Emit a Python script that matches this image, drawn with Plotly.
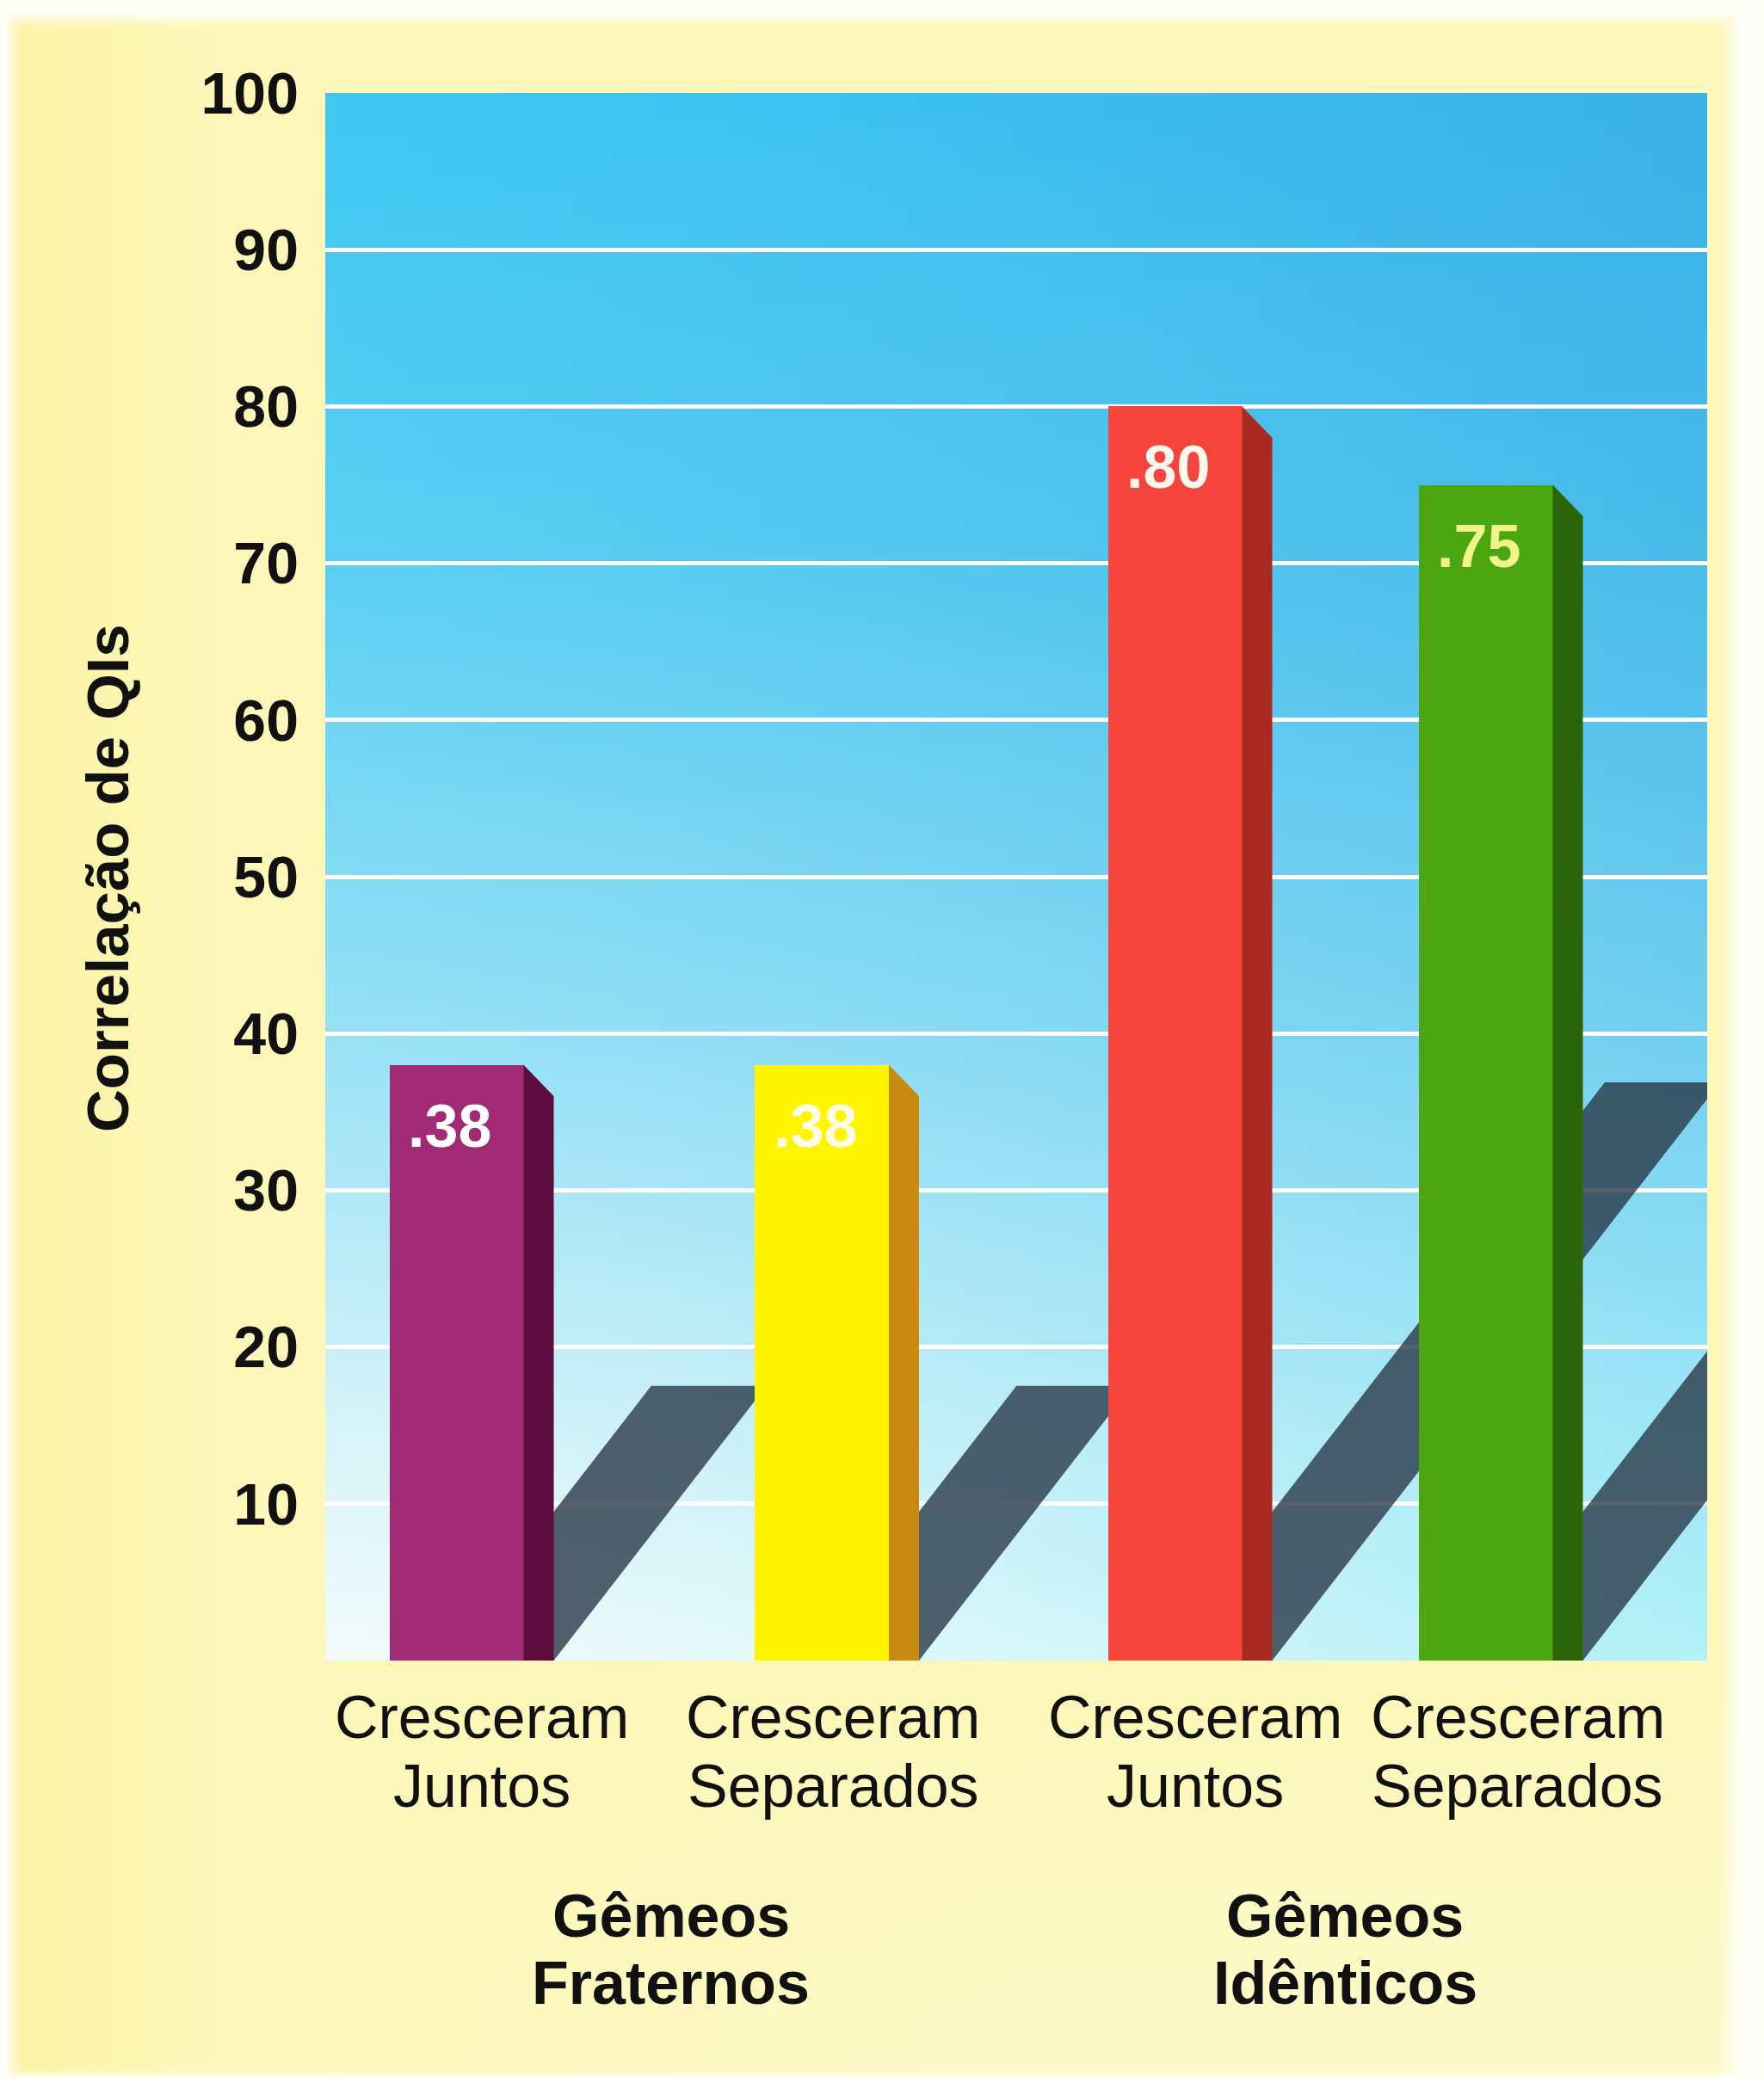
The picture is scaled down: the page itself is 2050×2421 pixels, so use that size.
import base64
import struct
import zlib

import numpy as np
import plotly.graph_objects as go

# ---- data -------------------------------------------------------------
cat_line1 = ["Cresceram", "Cresceram", "Cresceram", "Cresceram"]
cat_line2 = ["Juntos", "Separados", "Juntos", "Separados"]
group_line1 = ["Gêmeos", "Gêmeos"]
group_line2 = ["Fraternos", "Idênticos"]
correlations = [38, 38, 80, 75]
value_labels = [".38", ".38", ".80", ".75"]
y_ticks = [10, 20, 30, 40, 50, 60, 70, 80, 90, 100]

# ---- layout / style ---------------------------------------------------
W, H = 2050, 2421
M_L, M_R, M_T, M_B = 378, 66, 108, 491
PW, PH = W - M_L - M_R, H - M_T - M_B
X_MAX = 10.0

bar_x = [0.950, 3.593, 6.149, 8.397]      # centre of each front face
cat_label_x = [1.133, 3.674, 6.295, 8.630]
group_x = [2.50, 7.38]
bar_w = 0.971
side_dx = 0.218                            # depth of the side face (x units)
side_dy = 2.0                              # drop of the side face top (y units)
shadow_w = 0.834                           # width of the cast shadow (x units)
shadow_h = 0.461                           # shadow height per unit of value
shadow_d = 0.0405                          # shadow horizontal run per unit of value

front_colors = ["#a02a74", "#fff500", "#f5443b", "#4ca60f"]
side_colors = ["#5c0d3e", "#c98a12", "#a82a22", "#2b6509"]
label_colors = ["#ffffff", "#fffbe4", "#fff8ee", "#f3f38c"]
FONT = "Liberation Sans, Arial, Helvetica, sans-serif"


def png_uri(arr):
    """Encode an HxWx3 uint8 array as a PNG data URI."""
    arr = np.ascontiguousarray(arr, dtype=np.uint8)
    h, w, _ = arr.shape
    raw = b"".join(b"\x00" + arr[i].tobytes() for i in range(h))

    def chunk(tag, data):
        c = struct.pack(">I", len(data)) + tag + data
        return c + struct.pack(">I", zlib.crc32(tag + data) & 0xFFFFFFFF)

    png = (b"\x89PNG\r\n\x1a\n"
           + chunk(b"IHDR", struct.pack(">IIBBBBB", w, h, 8, 2, 0, 0, 0))
           + chunk(b"IDAT", zlib.compress(raw, 9))
           + chunk(b"IEND", b""))
    return "data:image/png;base64," + base64.b64encode(png).decode()


def hex_rgb(c):
    c = c.lstrip("#")
    return np.array([int(c[i:i + 2], 16) for i in (0, 2, 4)], dtype=float)


# plot-area backdrop: blue at the top fading to pale cyan / white at the bottom
stops_v = [0.0, 0.3, 0.6, 0.85, 1.0]
left_c = [hex_rgb(c) for c in ["#40c8f2", "#5cd0f3", "#98e2f6", "#d6f4f9", "#f4fcfb"]]
right_c = [hex_rgb(c) for c in ["#3ab2e8", "#4abcea", "#72d0f0", "#9de7f6", "#b2f1f8"]]
gh, gw = 120, 60
grad = np.zeros((gh, gw, 3))
for i in range(gh):
    v = i / (gh - 1)
    lc = np.array([np.interp(v, stops_v, [c[k] for c in left_c]) for k in range(3)])
    rc = np.array([np.interp(v, stops_v, [c[k] for c in right_c]) for k in range(3)])
    for j in range(gw):
        u = (j / (gw - 1)) ** 1.2
        grad[i, j] = lc * (1 - u) + rc * u
plot_bg_uri = png_uri(np.clip(grad, 0, 255))

# page backdrop: pale yellow with whitish borders
ph, pw = 242, 205
page = np.zeros((ph, pw, 3))
base = hex_rgb("#fdf8b9")
sat = hex_rgb("#fcf19a")
pale = hex_rgb("#fefbd2")
white = hex_rgb("#fffffa")
for i in range(ph):
    y = i * H / (ph - 1)
    for j in range(pw):
        x = j * W / (pw - 1)
        c = base.copy()
        t = max(0.0, 1 - (x - 15) / 220) if x > 15 else 1.0
        c = c * (1 - 0.6 * t) + sat * 0.6 * t
        b = np.clip((y - 1950) / 400, 0, 1) * np.clip((x - 300) / 900, 0, 1)
        c = c * (1 - 0.6 * b) + pale * 0.6 * b
        edge = 0.0
        edge = max(edge, np.clip((25 - y) / 15, 0, 1))
        edge = max(edge, np.clip((14 - x) / 8, 0, 1))
        edge = max(edge, np.clip((x - 2000) / 30, 0, 1))
        edge = max(edge, np.clip((y - 2410) / 8, 0, 1))
        page[i, j] = c * (1 - edge) + white * edge
page_uri = png_uri(np.clip(page, 0, 255))

fig = go.Figure()

# front faces of the bars
fig.add_trace(go.Bar(
    x=bar_x, y=correlations, width=bar_w,
    marker=dict(color=front_colors, line=dict(width=0)),
    hoverinfo="skip", showlegend=False,
))

# side faces give the bars their depth
for xc, v, sc in zip(bar_x, correlations, side_colors):
    xr = xc + bar_w / 2
    fig.add_trace(go.Scatter(
        x=[xr, xr + side_dx, xr + side_dx, xr, xr],
        y=[v, v - side_dy, 0, 0, v],
        fill="toself", fillcolor=sc, mode="lines", line=dict(width=0),
        hoverinfo="skip", showlegend=False,
    ))

shapes = []
# cast shadows behind each bar (over the grid, under the bars)
for xc, v in zip(bar_x, correlations):
    xr = xc + bar_w / 2 + side_dx
    xl = xr - shadow_w
    hh = shadow_h * v
    dd = shadow_d * v
    shapes.append(dict(
        type="path", xref="x", yref="y", layer="between",
        path=f"M {xl},0 L {xr},0 L {xr + dd},{hh} L {xl + dd},{hh} Z",
        fillcolor="rgba(38,52,68,0.78)", line=dict(width=0),
    ))

annotations = []
for xc, v, txt, col in zip(bar_x, correlations, value_labels, label_colors):
    annotations.append(dict(
        x=xc - 0.05, y=v - 3.9, xref="x", yref="y", text=txt, showarrow=False,
        font=dict(family=FONT, size=70, color=col, weight="bold"),
        xanchor="center", yanchor="middle",
    ))


def py_paper(py):
    return (M_T + PH - py) / PH


for lx, l1, l2 in zip(cat_label_x, cat_line1, cat_line2):
    for txt, py in ((l1, 1996), (l2, 2076)):
        annotations.append(dict(
            x=lx, y=py_paper(py), xref="x", yref="paper", text=txt, showarrow=False,
            font=dict(family=FONT, size=70, color="#111111"),
            xanchor="center", yanchor="middle",
        ))

for gx, l1, l2 in zip(group_x, group_line1, group_line2):
    for txt, py in ((l1, 2227), (l2, 2305)):
        annotations.append(dict(
            x=gx, y=py_paper(py), xref="x", yref="paper", text=txt, showarrow=False,
            font=dict(family=FONT, size=70, color="#111111", weight="bold"),
            xanchor="center", yanchor="middle",
        ))

annotations.append(dict(
    x=(125 - M_L) / PW, y=py_paper(1021), xref="paper", yref="paper",
    text="Correlação de QIs", textangle=-90, showarrow=False,
    font=dict(family=FONT, size=69, color="#111111", weight="bold"),
    xanchor="center", yanchor="middle",
))

images = [
    dict(source=page_uri, xref="paper", yref="paper",
         x=-M_L / PW, y=1 + M_T / PH, sizex=W / PW, sizey=H / PH,
         xanchor="left", yanchor="top", sizing="stretch", layer="below"),
    dict(source=plot_bg_uri, xref="x", yref="y",
         x=0, y=100, sizex=X_MAX, sizey=100,
         xanchor="left", yanchor="top", sizing="stretch", layer="below"),
]

fig.update_layout(
    width=W, height=H, autosize=False,
    margin=dict(l=M_L, r=M_R, t=M_T, b=M_B, pad=0),
    paper_bgcolor="#fdf8b9", plot_bgcolor="#8fdcf3",
    shapes=shapes, annotations=annotations, images=images,
    showlegend=False, bargap=0,
    font=dict(family=FONT, color="#111111"),
)
fig.update_xaxes(range=[0, X_MAX], showticklabels=False, showgrid=False,
                 zeroline=False, showline=False, ticks="", fixedrange=True)
fig.update_yaxes(
    range=[0, 100], tickmode="array", tickvals=y_ticks,
    ticktext=[str(t) for t in y_ticks],
    tickfont=dict(family=FONT, size=68, color="#111111", weight="bold"),
    ticks="", ticklabelstandoff=30, showgrid=False, zeroline=False, showline=False,
    minor=dict(tickvals=y_ticks[:-1], showgrid=True, gridcolor="#ffffff",
               gridwidth=5, ticks=""),
    fixedrange=True,
)

fig.write_html("out.html")
